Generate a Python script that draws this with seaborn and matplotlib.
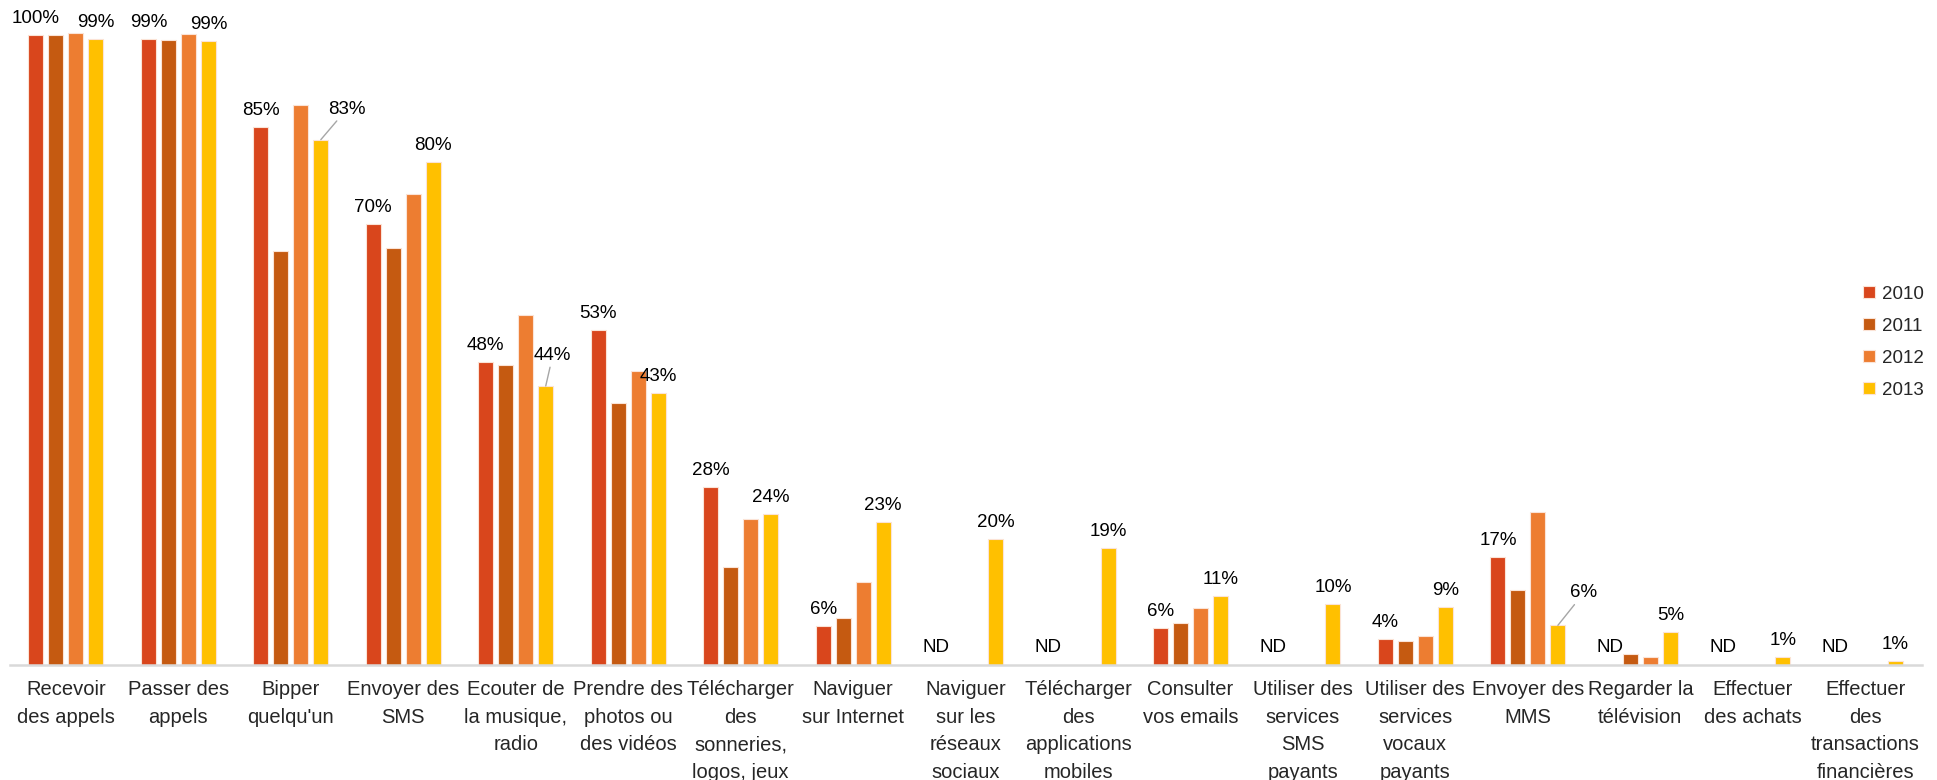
import numpy as np
import pandas as pd
import matplotlib
matplotlib.use("Agg")
import matplotlib.pyplot as plt
import seaborn as sns

sns.set_theme(style="white")
plt.rcParams['font.family'] = ['Liberation Sans', 'DejaVu Sans']

categories = ["Recevoir\ndes appels", "Passer des\nappels", "Bipper\nquelqu'un",
              "Envoyer des\nSMS", "Ecouter de\nla musique,\nradio",
              "Prendre des\nphotos ou\ndes vidéos",
              "Télécharger\ndes\nsonneries,\nlogos, jeux", "Naviguer\nsur Internet",
              "Naviguer\nsur les\nréseaux\nsociaux",
              "Télécharger\ndes\napplications\nmobiles", "Consulter\nvos emails",
              "Utiliser des\nservices\nSMS\npayants",
              "Utiliser des\nservices\nvocaux\npayants", "Envoyer des\nMMS",
              "Regarder la\ntélévision", "Effectuer\ndes achats",
              "Effectuer\ndes\ntransactions\nfinancières"]
years = ["2010", "2011", "2012", "2013"]
nan = np.nan
v2010 = [100, 99.4, 85.4, 70.0, 48.1, 53.2, 28.3, 6.2, nan, nan, 5.8, nan, 4.1, 17.1, nan, nan, nan]
v2011 = [100, 99.2, 65.8, 66.2, 47.6, 41.6, 15.6, 7.5, nan, nan, 6.7, nan, 3.8, 11.9, 1.8, nan, nan]
v2012 = [100.3, 100.2, 88.9, 74.8, 55.6, 46.7, 23.2, 13.2, nan, nan, 9.0, nan, 4.6, 24.3, 1.3, nan, nan]
v2013 = [99.4, 99.0, 83.4, 79.8, 44.3, 43.2, 24.0, 22.7, 20.0, 18.6, 11.0, 9.7, 9.2, 6.3, 5.2, 1.3, 0.6]
colors = ["#D9461C", "#C55A11", "#ED7D31", "#FFC000"]
# labels moved aside with a leader line (category index -> offset in px)
moved = {2: (26, 22), 4: (7, 22), 13: (26, 24)}

series = [v2010, v2011, v2012, v2013]
df = pd.DataFrame({
    "cat": np.tile(categories, 4),
    "year": np.repeat(years, len(categories)),
    "val": np.concatenate(series),
})

fig = plt.figure(figsize=(19.37, 7.80), dpi=100)
ax = fig.add_axes([0.005, 0.1474, 0.987, 0.848])
W = 0.711
sns.barplot(data=df, x="cat", y="val", hue="year", order=categories, hue_order=years,
            palette=colors, saturation=1, width=W, gap=0.25, edgecolor="#fbe3d6",
            linewidth=0.8, ax=ax, legend=True)
ax.set_xlim(-0.5, len(categories) - 0.5)
ax.set_ylim(0, 105)
ax.set_xlabel("")
ax.set_ylabel("")
ax.set_yticks([])
for s in ["top", "left", "right"]:
    ax.spines[s].set_visible(False)
ax.spines["bottom"].set_color("#d9d9d9")
ax.spines["bottom"].set_linewidth(1.8)
ax.set_xticks(range(len(categories)))
ax.set_xticklabels(categories, fontsize=14.5, linespacing=1.56)
ax.tick_params(axis="x", length=0, pad=11)

pitch = W / 4
for j in [0, 3]:
    vals = series[j]
    for i, v in enumerate(vals):
        x = i + (j - 1.5) * pitch
        if np.isnan(v):
            ax.annotate("ND", (x, 0), xytext=(0, 9), textcoords="offset pixels",
                        ha="center", va="bottom", fontsize=13.5, color="black")
            continue
        txt = f"{v:.0f}%"
        if j == 3 and i in moved:
            dx, dy = moved[i]
            ax.annotate(txt, (x, v), xytext=(dx, dy), textcoords="offset pixels",
                        ha="center", va="bottom", fontsize=13.5, color="black",
                        arrowprops=dict(arrowstyle="-", color="#a6a6a6", lw=1,
                                        shrinkA=0, shrinkB=0))
        else:
            ax.annotate(txt, (x, v), xytext=(0, 8), textcoords="offset pixels",
                        ha="center", va="bottom", fontsize=13.5, color="black",
                        annotation_clip=False)

h, l = ax.get_legend_handles_labels()
ax.legend(h, l, loc="center left", bbox_to_anchor=(0.962, 0.5615),
          bbox_transform=fig.transFigure, frameon=False, fontsize=13.5,
          handlelength=0.6, handleheight=0.6, handletextpad=0.4,
          labelspacing=0.8, borderpad=0, borderaxespad=0)

fig.savefig("out.png", dpi=100)
